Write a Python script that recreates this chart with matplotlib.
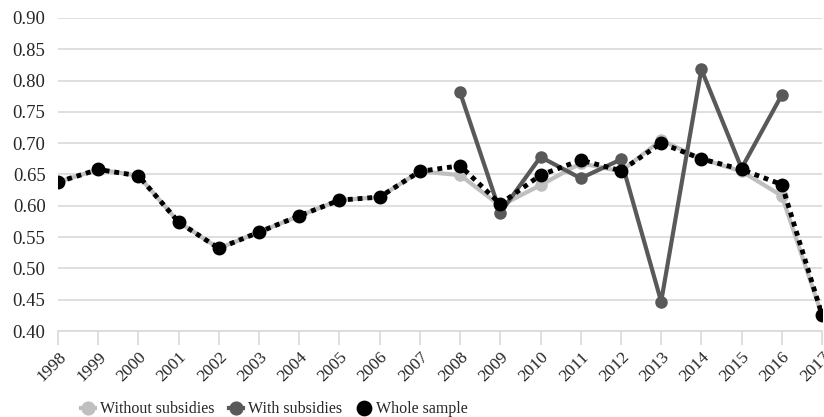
import matplotlib
matplotlib.use("Agg")
import matplotlib.pyplot as plt
import numpy as np

years = [str(y) for y in range(1998, 2018)]
without_subsidies = [0.638, 0.658, 0.648, 0.574, 0.532, 0.558, 0.584, 0.609, 0.614, 0.655,
                     0.649, 0.600, 0.633, 0.668, 0.655, 0.705, 0.675, 0.655, 0.616, 0.425]
with_subsidies = [None]*10 + [0.781, 0.589, 0.678, 0.644, 0.674, 0.447, 0.818, 0.660, 0.777, None]
whole_sample = [0.638, 0.658, 0.648, 0.574, 0.532, 0.558, 0.584, 0.609, 0.614, 0.655,
                0.664, 0.603, 0.649, 0.673, 0.656, 0.700, 0.675, 0.658, 0.634, 0.426]
yticks = [0.40, 0.45, 0.50, 0.55, 0.60, 0.65, 0.70, 0.75, 0.80, 0.85, 0.90]

plt.rcParams['font.family'] = ['Liberation Serif', 'DejaVu Serif']

fig = plt.figure(figsize=(8.24, 4.17), dpi=100)
ax = fig.add_axes([58/824, 1-331/417, (822-58)/824, (331-18)/417])

x = np.arange(len(years))
ws = np.array([np.nan if v is None else v for v in with_subsidies], dtype=float)

ax.plot(x, without_subsidies, color='#bfbfbf', lw=3, marker='o', ms=8, label='Without subsidies', zorder=3)
ax.plot(x, ws, color='#595959', lw=3, marker='o', ms=8, label='With subsidies', zorder=4)
ax.plot(x, whole_sample, color='black', lw=3.5, ls=(0, (1, 1)), marker='o', ms=9, label='Whole sample', zorder=5)

ax.set_xlim(0, len(years)-1)
ax.set_ylim(0.40, 0.90)
ax.set_yticks(yticks)
ax.set_yticklabels([f"{v:.2f}" for v in yticks], fontsize=13.5, color='#262626')
ax.set_xticks(x)
ax.set_xticklabels(years, rotation=45, ha='right', rotation_mode='anchor', fontsize=12.5, color='#262626')
ax.grid(axis='y', color='#d9d9d9', lw=1.2)
ax.set_axisbelow(True)
for s in ['top', 'right', 'left']:
    ax.spines[s].set_visible(False)
ax.spines['bottom'].set_color('#d9d9d9')
ax.spines['bottom'].set_linewidth(1.2)
ax.tick_params(axis='y', length=0, pad=9)
ax.tick_params(axis='x', length=10, color='#d9d9d9', width=1.2, pad=3)

leg = fig.legend(loc='lower center', bbox_to_anchor=(0.333, -0.035), ncol=3, frameon=False,
                 fontsize=11.5, handlelength=0.9, handletextpad=0.3, columnspacing=0.9,
                 markerscale=1.15)
for t in leg.get_texts():
    t.set_color('#262626')

fig.savefig('out.png', dpi=100)
